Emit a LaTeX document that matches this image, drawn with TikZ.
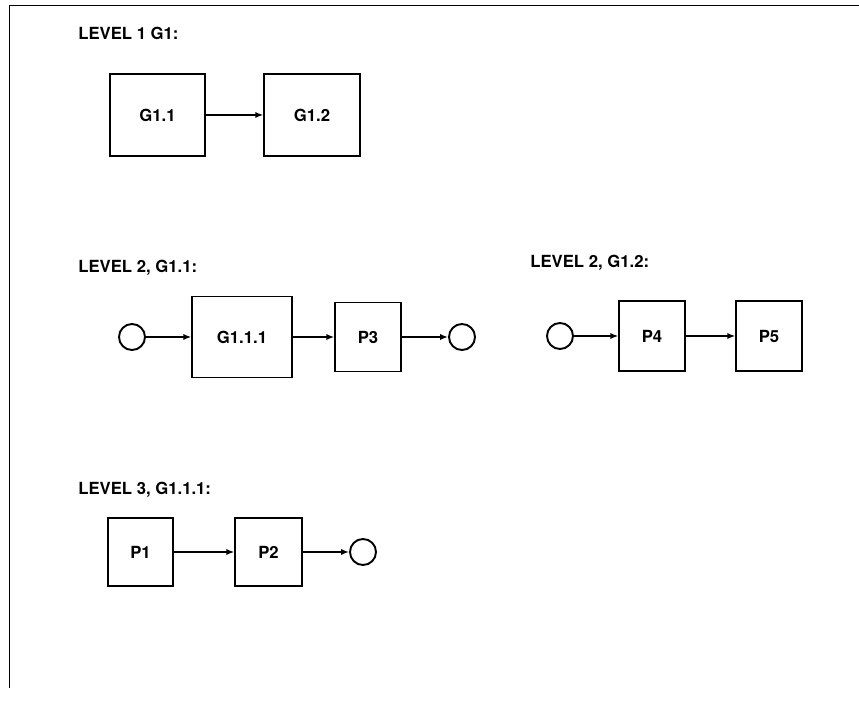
\documentclass[tikz,border=0pt]{standalone}
\usepackage{fontspec}
\setmainfont{TeX Gyre Heros}
\usetikzlibrary{arrows.meta}
\tikzset{
  blk/.style={draw, line width=0.8pt, inner sep=0pt, font=\bfseries\fontsize{9.5}{11}\selectfont},
  term/.style={draw, circle, line width=1.1pt, minimum size=0.52cm, inner sep=0pt},
  flow/.style={-{Latex[length=4.5pt,width=3.5pt]}, line width=0.8pt},
  lvl/.style={anchor=west, inner sep=0pt, font=\bfseries\fontsize{9.5}{11}\selectfont}
}
\begin{document}
\begin{tikzpicture}[x=0.02cm, y=-0.02cm]
\useasboundingbox (0,0) rectangle (859,712);
% frame
\draw[line width=1.1pt] (9.5,5.5) -- (859,5.5);
\draw[line width=0.6pt] (9.5,5.5) -- (9.5,688);
% level 1
\node[lvl] (l1) at (78,33) {LEVEL 1 G1:};
\node[blk, minimum width=1.9cm, minimum height=1.64cm] (g11) at (157.5,115) {G1.1};
\node[blk, minimum width=1.92cm, minimum height=1.64cm] (g12) at (312,115) {G1.2};
\draw[flow] (g11) -- (g12);
% level 2, G1.1
\node[lvl] (l2a) at (78,268) {LEVEL 2, G1.1:};
\node[term] (c1) at (132,337) {};
\node[blk, minimum width=2cm, minimum height=1.62cm] (g111) at (242,337) {G1.1.1};
\node[blk, minimum width=1.32cm, minimum height=1.38cm] (p3) at (368,337) {P3};
\node[term] (c2) at (462,337) {};
\draw[flow] (c1) -- (g111);
\draw[flow] (g111) -- (p3);
\draw[flow] (p3) -- (c2);
% level 2, G1.2
\node[lvl] (l2b) at (530,263) {LEVEL 2, G1.2:};
\node[term] (c3) at (560,336) {};
\node[blk, minimum width=1.32cm, minimum height=1.4cm] (p4) at (652,336) {P4};
\node[blk, minimum width=1.32cm, minimum height=1.4cm] (p5) at (769,336) {P5};
\draw[flow] (c3) -- (p4);
\draw[flow] (p4) -- (p5);
% level 3, G1.1.1
\node[lvl] (l3) at (78,490) {LEVEL 3, G1.1.1:};
\node[blk, minimum width=1.3cm, minimum height=1.36cm] (p1) at (140.5,552) {P1};
\node[blk, minimum width=1.34cm, minimum height=1.36cm] (p2) at (268.5,552) {P2};
\node[term] (c4) at (363,552) {};
\draw[flow] (p1) -- (p2);
\draw[flow] (p2) -- (c4);
\end{tikzpicture}
\end{document}
